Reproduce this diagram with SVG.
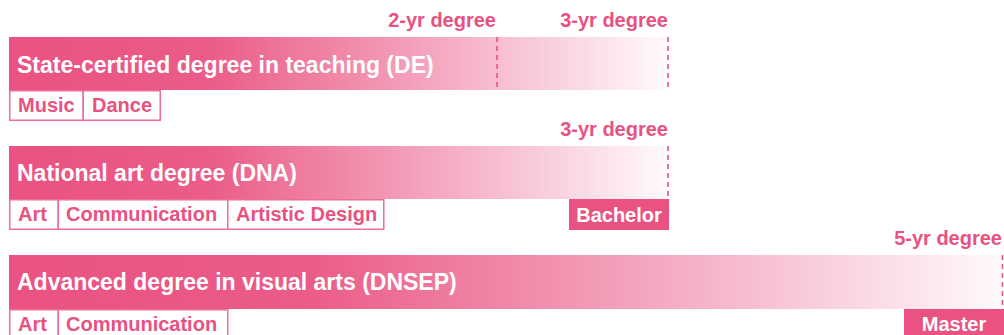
<svg xmlns="http://www.w3.org/2000/svg" width="1004" height="335" viewBox="0 0 1004 335">
<defs>
<linearGradient id="fade" x1="0" y1="0" x2="1" y2="0">
<stop offset="0" stop-color="#EA5282"/>
<stop offset="0.3" stop-color="#EB5C88"/>
<stop offset="1" stop-color="#EA5282" stop-opacity="0.03"/>
</linearGradient>
<style>
text{font-family:"Liberation Sans",Arial,sans-serif;font-weight:bold}
.title{font-size:23px;fill:#fff}
.tag{font-size:20px;fill:#E9527F}
.tagbox{fill:#fff;stroke:#EE6E95;stroke-width:1.5}
.label{font-size:20px;fill:#E9527F;text-anchor:end}
.dash{stroke:#EA5282;stroke-width:1.6;stroke-dasharray:5 4;fill:none}
.solid{fill:#EA5282}
.wtag{font-size:20px;fill:#fff;text-anchor:middle}
</style>
</defs>
<g id="de">
<rect x="9" y="37" width="659" height="53" fill="url(#fade)"/>
<text class="title" x="17" y="73">State-certified degree in teaching (DE)</text>
<rect class="tagbox" x="9.75" y="90.75" width="73.5" height="29.5"/>
<text class="tag" x="18" y="112">Music</text>
<rect class="tagbox" x="83.25" y="90.75" width="77" height="29.5"/>
<text class="tag" x="92" y="112">Dance</text>
<text class="label" x="496" y="27">2-yr degree</text>
<text class="label" x="668" y="27">3-yr degree</text>
</g>
<g id="dna">
<rect x="9" y="146" width="659" height="53" fill="url(#fade)"/>
<text class="title" x="17" y="181">National art degree (DNA)</text>
<rect class="tagbox" x="9.75" y="199.75" width="48.5" height="29.5"/>
<text class="tag" x="18" y="221">Art</text>
<rect class="tagbox" x="58.25" y="199.75" width="169.5" height="29.5"/>
<text class="tag" x="66" y="221">Communication</text>
<rect class="tagbox" x="227.75" y="199.75" width="156" height="29.5"/>
<text class="tag" x="236" y="221">Artistic Design</text>
<rect class="solid" x="569" y="199" width="100" height="31"/>
<text class="wtag" x="619" y="222">Bachelor</text>
<text class="label" x="668" y="136">3-yr degree</text>
</g>
<g id="dnsep">
<rect x="9" y="255" width="994" height="54" fill="url(#fade)"/>
<text class="title" x="17" y="290">Advanced degree in visual arts (DNSEP)</text>
<rect class="tagbox" x="9.75" y="309.75" width="48.5" height="30"/>
<text class="tag" x="18" y="331">Art</text>
<rect class="tagbox" x="58.25" y="309.75" width="169.5" height="30"/>
<text class="tag" x="66" y="331">Communication</text>
<rect class="solid" x="904" y="309" width="100" height="30"/>
<text class="wtag" x="954" y="331">Master</text>
<text class="label" x="1002" y="245">5-yr degree</text>
</g>
<g id="connectors">
<line class="dash" x1="497" y1="37" x2="497" y2="90"/>
<line class="dash" x1="668" y1="37" x2="668" y2="90"/>
<line class="dash" x1="668" y1="146" x2="668" y2="199"/>
<line class="dash" x1="1002.5" y1="255" x2="1002.5" y2="309"/>
</g>
</svg>
